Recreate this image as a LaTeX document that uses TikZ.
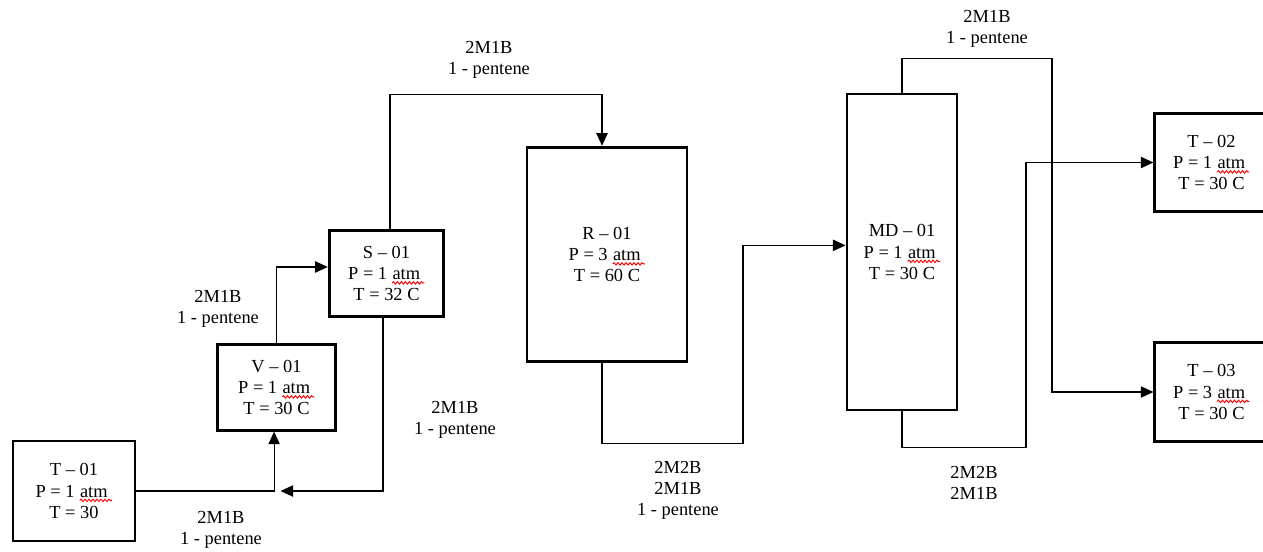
\documentclass[tikz,border=0pt]{standalone}
\usepackage{fontspec}
\setmainfont{Liberation Serif}
\usetikzlibrary{arrows.meta,positioning,calc,decorations.pathmorphing}
\newcommand{\atm}{\tikz[baseline=(w.base)]{%
  \node[draw=none, inner sep=0pt, minimum width=0pt, minimum height=0pt, align=left] (w) {atm};
  \draw[red, line width=0.7pt, decorate, decoration={snake, amplitude=0.9pt, segment length=3pt}]
    ([yshift=-2.5pt]w.base west) -- ([yshift=-2.5pt, xshift=3pt]w.base east);}}

\begin{document}
\begin{tikzpicture}[
    x=0.75pt, y=-0.75pt,
    unit/.style={draw, line width=2.1pt, align=center, inner sep=0pt,
                 font=\fontsize{13.8}{15.8}\selectfont},
    stream/.style={align=center, font=\fontsize{13.8}{15.8}\selectfont},
    arr/.style={-{Triangle[length=9.5pt, width=8.5pt]}, line width=0.9pt},
  ]
  \useasboundingbox (0,0) rectangle (1263,551);

  % units
  \node[unit, minimum width=91.5pt, minimum height=75pt] (t01) at (74,491) {T -- 01\\P = 1 \atm\\T = 30};
  \node[unit, minimum width=89pt, minimum height=64pt] (v01) at (276.5,387.5) {V -- 01\\P = 1 \atm\\T = 30 C};
  \node[unit, minimum width=86pt, minimum height=64pt] (s01) at (386.5,273.5) {S -- 01\\P = 1 \atm\\T = 32 C};
  \node[unit, minimum width=120pt, minimum height=161pt] (r01) at (607,254.5) {R -- 01\\P = 3 \atm\\T = 60 C};
  \node[unit, minimum width=82.5pt, minimum height=237pt] (md01) at (902,252) {MD -- 01\\P = 1 \atm\\T = 30 C};
  \node[unit, minimum width=85pt, minimum height=74pt] (t02) at (1211.5,162.5) {T -- 02\\P = 1 \atm\\T = 30 C};
  \node[unit, minimum width=85pt, minimum height=74pt] (t03) at (1211.5,392) {T -- 03\\P = 3 \atm\\T = 30 C};

  % stream labels
  \node[stream] (f1) at (221,530) {2M1B\\1 - pentene};
  \node[stream] (f2) at (218,309) {2M1B\\1 - pentene};
  \node[stream] (f3) at (455,420) {2M1B\\1 - pentene};
  \node[stream] (f4) at (489,60) {2M1B\\1 - pentene};
  \node[stream] (f5) at (678,490) {2M2B\\2M1B\\1 - pentene};
  \node[stream] (f6) at (987,29) {2M1B\\1 - pentene};
  \node[stream] (f7) at (974,483) {2M2B\\2M1B};

  \coordinate (rec) at ($(v01.south |- t01.east)+(4,0)$);

  % connectors
  \draw[arr] (t01.east) -| ([xshift=-1.8pt]v01.south);
  \draw[arr] ([xshift=-2.6pt]s01.south) |- (rec);
  \draw[arr] (v01.north) |- ([yshift=4.9pt]s01.west);
  \draw[arr] ([xshift=2.6pt]s01.north) -- ++(0,-135) -| ([xshift=-3.75pt]r01.north);
  \draw[arr] ([xshift=-3.75pt]r01.south) -- ++(0,80) -- ++(141,0) |- ([yshift=5pt]md01.west);
  \draw[arr] (md01.north) -- ++(0,-34) -- ++(150,0) |- (t03.west);
  \draw[arr] (md01.south) -- ++(0,36) -- ++(124,0) |- (t02.west);
\end{tikzpicture}
\end{document}
